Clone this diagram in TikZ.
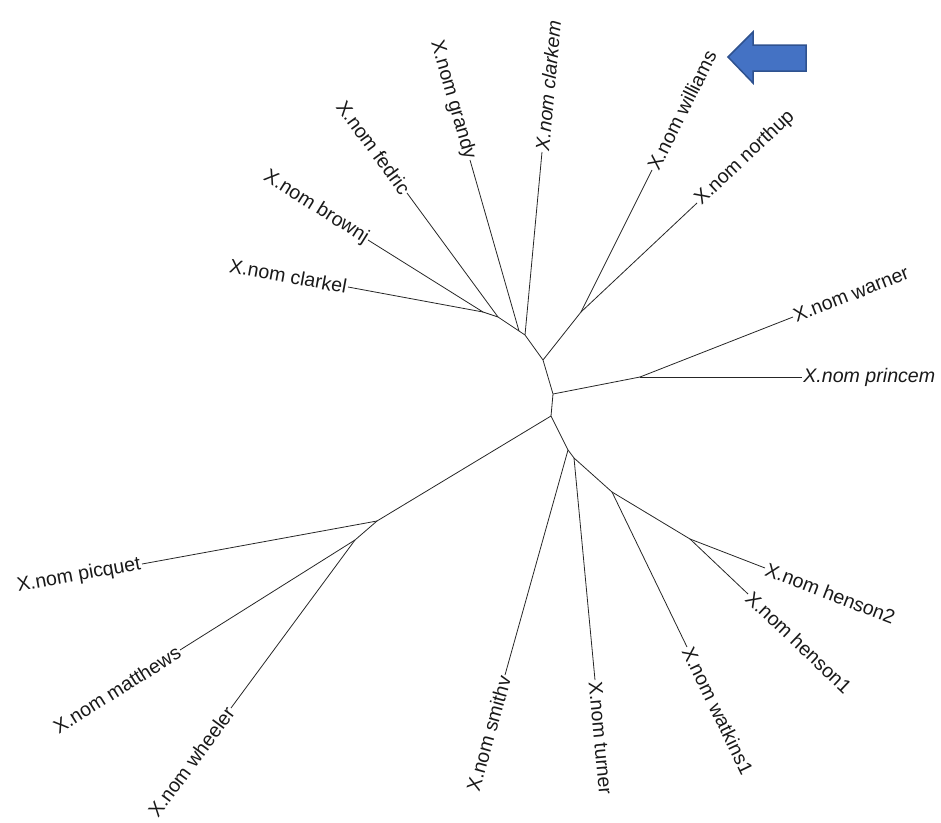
\documentclass[tikz,border=0pt]{standalone}
\usepackage{fontspec}
\setmainfont{Liberation Sans}
\definecolor{arrowfill}{HTML}{4472C4}
\definecolor{arrowline}{HTML}{2F528F}
\begin{document}
\begin{tikzpicture}[x=1pt,y=-1pt,
  br/.style={draw=black!85,line width=0.8pt},
  lab/.style={font=\fontsize{19.6}{23}\selectfont, inner sep=1pt, text=black!90},
  labR/.style={lab,sloped,pos=1,anchor=west},
  labL/.style={lab,sloped,pos=1,anchor=east}]
\useasboundingbox (0,0) rectangle (941,822);
% internal nodes
\coordinate (A) at (543,360);
\coordinate (B) at (553,394);
\coordinate (C) at (640,377);
\coordinate (D) at (551,416);
\coordinate (E) at (377,521);
\coordinate (F) at (355,540);
\coordinate (G) at (568,450);
\coordinate (H) at (574,458);
\coordinate (I) at (612,492);
\coordinate (J) at (690,539);
\coordinate (L) at (581,312);
\coordinate (P1) at (483,312);
\coordinate (P2) at (498,317);
\coordinate (P3) at (519,331);
\coordinate (N2) at (525,335);
% tips
\coordinate (clarkel) at (348,287);
\coordinate (brownj) at (368,240);
\coordinate (fedric) at (407,193);
\coordinate (grandy) at (470,160);
\coordinate (clarkem) at (542,152);
\coordinate (williams) at (652,170);
\coordinate (northup) at (697,203);
\coordinate (warner) at (793,317);
\coordinate (princem) at (802,377);
\coordinate (henson2) at (765,568);
\coordinate (henson1) at (748,594);
\coordinate (watkins1) at (687,647);
\coordinate (turner) at (595,680);
\coordinate (smithv) at (505,675);
\coordinate (wheeler) at (231,708);
\coordinate (matthews) at (180,650);
\coordinate (picquet) at (142,564);
% backbone
\draw[br] (P1) -- (P2) -- (P3) -- (N2) -- (A) -- (B) -- (D) -- (G) -- (H) -- (I) -- (J);
\draw[br] (A) -- (L);
\draw[br] (B) -- (C);
\draw[br] (D) -- (E) -- (F);
% leaves
\draw[br] (P1) -- (clarkel) node[labL] (tclarkel) {X.nom clarkel};
\draw[br] (P1) -- (brownj) node[labL] (tbrownj) {X.nom brownj};
\draw[br] (P2) -- (fedric) node[labL] (tfedric) {X.nom fedric};
\draw[br] (P3) -- (grandy) node[labL] (tgrandy) {X.nom grandy};
\draw[br] (N2) -- (clarkem) node[labR,font=\fontsize{19.6}{23}\selectfont\itshape] (tclarkem) {X.nom clarkem};
\draw[br] (L) -- (williams) node[labR] (twilliams) {X.nom williams};
\draw[br] (L) -- (northup) node[labR] (tnorthup) {X.nom northup};
\draw[br] (C) -- (warner) node[labR] (twarner) {X.nom warner};
\draw[br] (C) -- (princem) node[labR,font=\fontsize{19.6}{23}\selectfont\itshape] (tprincem) {X.nom princem};
\draw[br] (J) -- (henson2) node[labR] (thenson2) {X.nom henson2};
\draw[br] (J) -- (henson1) node[labR] (thenson1) {X.nom henson1};
\draw[br] (I) -- (watkins1) node[labR] (twatkins1) {X.nom watkins1};
\draw[br] (H) -- (turner) node[labR] (tturner) {X.nom turner};
\draw[br] (G) -- (smithv) node[labL] (tsmithv) {X.nom smithv};
\draw[br] (F) -- (wheeler) node[labL] (twheeler) {X.nom wheeler};
\draw[br] (F) -- (matthews) node[labL] (tmatthews) {X.nom matthews};
\draw[br] (E) -- (picquet) node[labL] (tpicquet) {X.nom picquet};
% blue arrow
\draw[fill=arrowfill,draw=arrowline,line width=1.5pt,line join=miter]
  (728,57) -- (753,32) -- (753,45) -- (806,45) -- (806,71) -- (753,71) -- (753,83) -- cycle;
\end{tikzpicture}
\end{document}
